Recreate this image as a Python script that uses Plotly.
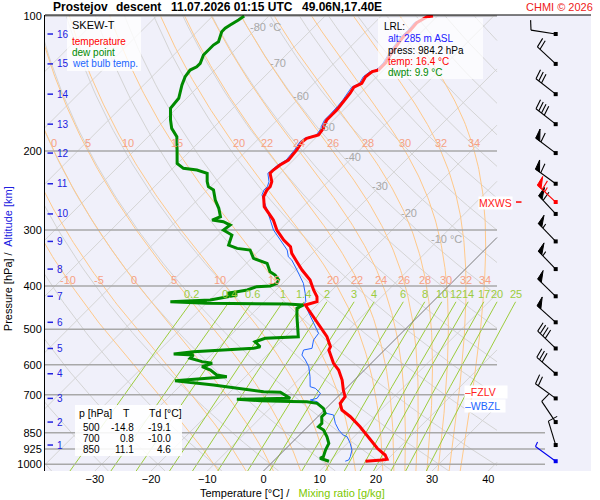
import math
import plotly.graph_objects as go

# ---------------- sounding data ----------------
TEMP_P = [100.0, 100.4, 103.5, 107.5, 111.2, 119.1, 127.3, 132.0, 133.1, 136.6, 141.3, 144.2, 148.7,
          153.9, 159.3, 162.0, 166.3, 170.6, 176.6, 178.1, 184.3, 187.5, 190.8, 199.0, 209.5, 215.0,
          220.6, 224.3, 234.2, 240.3, 244.4, 252.9, 266.3, 275.5, 285.2, 300.2, 316.0, 327.1, 338.4,
          353.3, 368.7, 388.0, 408.5, 422.8, 433.8, 441.2, 464.5, 493.3, 519.3, 546.7, 556.0, 595.3,
          616.2, 648.6, 682.8, 706.7, 731.1, 756.7, 783.1, 824.4, 852.8, 882.7, 921.1, 953.4, 974.6,
          978.2, 984.2]
TEMP_T = [-50.8, -51.7, -52.5, -52.3, -52.4, -51.8, -50.9, -50.9, -51.7, -52.0, -51.5, -52.2, -51.8,
          -51.5, -51.3, -51.2, -51.2, -51.2, -50.6, -50.3, -50.0, -51.5, -51.7, -51.2, -50.9, -51.5,
          -51.8, -51.8, -50.0, -49.4, -49.4, -48.8, -46.9, -44.9, -42.9, -40.5, -37.5, -35.1, -33.7,
          -31.3, -28.9, -25.7, -23.3, -21.5, -20.6, -22.1, -19.1, -15.6, -12.6, -10.2, -9.9, -6.7,
          -4.6, -2.2, -0.2, 1.3, 1.6, 3.1, 5.8, 9.3, 11.4, 13.5, 16.2, 18.8, 19.9,
          19.1, 16.4]

DEW_P = [100.0, 102.1, 104.7, 106.5, 108.4, 111.2, 114.1, 116.1, 119.1, 122.2, 127.5, 129.8, 132.0,
         136.6, 142.5, 147.5, 152.6, 160.6, 170.6, 178.1, 185.9, 199.0, 213.2, 218.7, 220.6, 224.3,
         234.2, 240.3, 244.4, 257.3, 268.5, 280.4, 285.2, 287.7, 292.6, 300.2, 308.1, 324.4, 329.9,
         332.7, 347.3, 356.3, 371.9, 378.3, 388.0, 394.7, 400.2, 401.6, 408.5, 412.1, 415.5, 419.2,
         430.1, 433.8, 437.3, 438.9, 441.2, 448.7, 468.6, 519.3, 523.6, 532.9, 546.7, 551.2, 560.9,
         567.5, 570.5, 580.1, 590.2, 595.3, 605.8, 616.2, 632.1, 637.7, 651.1, 665.6, 676.8, 688.7,
         690.8, 712.4, 716.1, 721.3, 724.5, 725.5, 731.1, 750.1, 769.5, 783.1, 810.2, 824.4, 838.6,
         868.0, 897.9, 929.2, 961.6, 969.6, 984.2]
DEW_T = [-84.4, -84.7, -85.3, -85.6, -85.6, -85.0, -84.4, -84.7, -84.7, -84.7, -83.8, -83.8, -84.4,
         -84.1, -83.2, -82.3, -81.4, -81.1, -79.0, -77.3, -74.9, -72.5, -70.1, -68.1, -65.4, -63.0,
         -61.5, -60.4, -58.9, -56.8, -54.7, -52.9, -53.8, -51.5, -49.7, -50.0, -47.6, -46.4, -44.3,
         -41.7, -39.6, -36.3, -34.3, -32.8, -31.3, -31.0, -31.7, -34.0, -35.1, -36.6, -38.1, -36.0,
         -39.9, -46.7, -39.9, -25.5, -22.4, -23.0, -21.5, -17.7, -23.3, -24.5, -22.7, -23.6, -33.7,
         -36.8, -33.1, -33.1, -30.4, -28.3, -29.5, -27.4, -25.4, -23.3, -31.8, -24.2, -19.4, -14.1,
         -11.0, -8.2, -17.5, -13.1, -7.6, -4.6, -2.5, -0.5, 0.7, 0.7, 1.9, 1.9, 3.4,
         5.2, 6.7, 7.3, 8.1, 7.8, 9.9]

WB_P = [100.0, 103.5, 107.5, 111.2, 119.1, 127.3, 132.0, 133.1, 136.6, 141.3, 144.2, 148.7, 153.9,
        159.3, 162.0, 166.3, 170.6, 176.6, 178.1, 184.3, 187.5, 190.8, 199.0, 209.5, 215.0, 220.6,
        224.3, 234.2, 240.3, 244.4, 250.7, 270.9, 285.2, 300.2, 316.0, 332.7, 344.4, 350.3, 368.7,
        394.7, 415.5, 433.8, 437.3, 460.4, 484.7, 510.3, 528.2, 551.2, 556.0, 570.5, 585.3, 605.8,
        637.7, 671.2, 676.8, 694.3, 712.4, 718.7, 725.0, 750.1, 769.5, 776.2, 810.2, 838.6, 860.6,
        868.0, 897.9, 929.2, 961.6, 978.2, 984.2]
WB_T = [-51.2, -52.9, -52.7, -52.8, -52.2, -51.3, -51.3, -52.1, -52.4, -51.9, -52.6, -52.2, -51.9,
        -51.7, -51.6, -51.6, -51.6, -51.0, -50.7, -50.4, -51.9, -52.1, -51.6, -51.3, -51.9, -52.2,
        -52.2, -50.5, -49.9, -49.9, -49.4, -45.8, -43.5, -41.1, -38.1, -35.1, -33.7, -32.5, -29.8,
        -26.3, -24.2, -22.6, -22.6, -20.0, -17.4, -14.7, -14.4, -13.2, -14.4, -13.8, -12.3, -10.5,
        -8.5, -6.7, -5.5, -3.7, -3.4, -4.3, -2.8, -0.4, 0.9, 2.5, 4.3, 6.1, 7.8,
        8.8, 10.5, 12.0, 12.9, 13.2, 12.8]

# altitude marks (km) and the pressure where each sits
ALT_KM = [1, 2, 3, 4, 5, 6, 7, 8, 9, 10, 11, 12, 13, 14, 15, 16]
ALT_P = [905.8, 805.0, 712.9, 628.1, 551.6, 482.2, 421.9, 366.9, 318.3, 276.4, 236.7, 202.2,
         174.3, 149.4, 127.9, 109.7]
# winds at each altitude mark (direction deg, speed kt)
WIND_DIR = [343, 326, 306, 311, 314, 312, 314, 316, 316, 317, 306, 307, 308, 308, 313, 279]
WIND_SPD = [10, 10, 20, 30, 40, 50, 50, 55, 55, 60, 60, 60, 40, 30, 20, 10]
SFC_P, SFC_DIR, SFC_SPD = 984.2, 306, 3
MXWS_P, MXWS_DIR, MXWS_SPD = 260.0, 313, 65

TABLE_P = [500, 700, 850]
TABLE_T = [-14.8, 0.8, 11.1]
TABLE_TD = [-19.1, -10.0, 4.6]

LRL_ALT, LRL_P, LRL_T, LRL_TD = 285, 984.2, 16.4, 9.9
FZLV_P = 690.0
WBZL_P = 741.0

P_TICKS = [100, 200, 300, 400, 500, 600, 700, 850, 925, 1000]
T_TICKS = [-30, -20, -10, 0, 10, 20, 30, 40]
ISOTHERMS = list(range(-120, 50, 10))
DRY_ADIABATS_C = list(range(-40, 190, 10))
THETA_W = [-10, -5, 0, 5, 10, 15, 20, 22, 24, 26, 28, 30, 32, 34]
MIX_RATIOS = [0.2, 0.4, 0.6, 1, 1.4, 2, 3, 4, 6, 8, 10, 12, 14, 17, 20, 25]
ISO_LBL_T = [-80, -70, -60, -50, -40, -30, -20, -10]
ISO_LBL_P = [105.8, 127.3, 150.7, 176.6, 206.0, 239.0, 274.8, 315.0]

# ---------------- layout geometry ----------------
W, H = 600, 500
PX_L, PX_R, PX_T, PX_B = 45, 591, 15, 471
PX_PER_DEG = 5.62
PX_PER_DEC = 448.3
PX_T0 = 263.5
PX_P100 = 16.0
LOG_P_TOP = 2 + (PX_T - PX_P100) / PX_PER_DEC
LOG_P_BOT = 2 + (PX_B - PX_P100) / PX_PER_DEC
P_TOP, P_BOT = 10 ** LOG_P_TOP, 10 ** LOG_P_BOT
SKEW = PX_PER_DEC / PX_PER_DEG
X_L = (PX_L - PX_T0) / PX_PER_DEG
X_R = (PX_R - PX_T0) / PX_PER_DEG
X_CLIP = (497 - PX_T0) / PX_PER_DEG
X_EXT = (545 - PX_T0) / PX_PER_DEG
X_BARB = (555.7 - PX_T0) / PX_PER_DEG

FONT = "Liberation Sans, Arial, sans-serif"
RD, CP, LV, EPS = 287.04, 1005.7, 2.501e6, 0.622


def skx(t, p):
    return t + SKEW * math.log10(P_BOT / p)


def px_of_x(x):
    return PX_T0 + x * PX_PER_DEG


def px_of_p(p):
    return PX_P100 + (math.log10(p) - 2) * PX_PER_DEC


def xx_of_px(px):
    return (px - PX_T0) / PX_PER_DEG


def paper_x(px):
    return (px - PX_L) / (PX_R - PX_L)


def paper_y(py):
    return (PX_B - py) / (PX_B - PX_T)


def logspace(a, b, n):
    la, lb = math.log10(a), math.log10(b)
    return [10 ** (la + (lb - la) * i / (n - 1)) for i in range(n)]


def clip_right(xs, ps, xmax):
    ox, op = [], []
    for i, (x, p) in enumerate(zip(xs, ps)):
        inside = x <= xmax
        if i > 0:
            x0, p0 = xs[i - 1], ps[i - 1]
            if inside != (x0 <= xmax):
                t = (xmax - x0) / (x - x0)
                pc = 10 ** (math.log10(p0) + t * (math.log10(p) - math.log10(p0)))
                ox.append(xmax)
                op.append(pc)
                if not inside:
                    ox.append(None)
                    op.append(None)
        if inside:
            ox.append(x)
            op.append(p)
    return ox, op


def x_at_p(xs, ps, pt):
    for i in range(1, len(xs)):
        p0, p1 = ps[i - 1], ps[i]
        if (p0 - pt) * (p1 - pt) <= 0 and p0 != p1:
            t = (math.log10(pt) - math.log10(p0)) / (math.log10(p1) - math.log10(p0))
            return xs[i - 1] + t * (xs[i] - xs[i - 1])
    return None


def es_hpa(tc):
    return 6.112 * math.exp(17.67 * tc / (tc + 243.5))


def dewpoint_from_e(e):
    a = math.log(e / 6.112)
    return 243.5 * a / (17.67 - a)


def moist_dtdp(tk, p):
    es = es_hpa(tk - 273.15)
    rs = EPS * es / (p - es)
    return (RD * tk + LV * rs) / (CP + LV * LV * rs * EPS / (RD * tk * tk)) / p


def pseudo_adiabat(tw, p_end, n):
    ps, ts = [1000.0], [tw + 273.15]
    l0, l1 = math.log(1000.0), math.log(p_end)
    for i in range(1, n + 1):
        pa = ps[-1]
        pb = math.exp(l0 + (l1 - l0) * i / n)
        h = pb - pa
        t = ts[-1]
        k1 = moist_dtdp(t, pa)
        k2 = moist_dtdp(t + 0.5 * h * k1, pa + 0.5 * h)
        k3 = moist_dtdp(t + 0.5 * h * k2, pa + 0.5 * h)
        k4 = moist_dtdp(t + h * k3, pb)
        ts.append(t + h * (k1 + 2 * k2 + 2 * k3 + k4) / 6)
        ps.append(pb)
    return ps, [t - 273.15 for t in ts]


fig = go.Figure()
annotations = []
shapes = []


def add_lines(xs, ps, color, width):
    fig.add_trace(go.Scatter(x=xs, y=ps, mode="lines", line=dict(color=color, width=width),
                             hoverinfo="skip", showlegend=False))


def ann(text, px, py, size, color="black", xanchor="left", yanchor="middle", **kw):
    annotations.append(dict(text=text, x=paper_x(px), y=paper_y(py), xref="paper", yref="paper",
                            xanchor=xanchor, yanchor=yanchor, showarrow=False,
                            font=dict(family=FONT, size=size, color=color), **kw))


def rect(x0, y0, x1, y1, fill):
    shapes.append(dict(type="rect", xref="paper", yref="paper", x0=paper_x(x0), x1=paper_x(x1),
                       y0=paper_y(y1), y1=paper_y(y0), fillcolor=fill, line=dict(width=0),
                       layer="above"))


# ---------------- background reference lines ----------------
GRID = "#d4d4d4"
gx, gp = [], []
for t in ISOTHERMS:
    if t == 0:
        continue
    cx, cp = clip_right([skx(t, P_BOT), skx(t, P_TOP)], [P_BOT, P_TOP], X_CLIP)
    gx += cx + [None]
    gp += cp + [None]
for th in DRY_ADIABATS_C:
    ps = logspace(P_BOT, P_TOP, 80)
    xs = [skx((th + 273.15) * (p / 1000.0) ** (RD / CP) - 273.15, p) for p in ps]
    cx, cp = clip_right(xs, ps, X_CLIP)
    gx += cx + [None]
    gp += cp + [None]
add_lines(gx, gp, GRID, 1)

ox, op = [], []
lbl_rows = []
for tw in THETA_W:
    pd, td = pseudo_adiabat(tw, P_BOT, 6)
    pu, tu = pseudo_adiabat(tw, P_TOP, 160)
    ps = pd[::-1] + pu[1:]
    ts = td[::-1] + tu[1:]
    xs = [skx(t, p) for t, p in zip(ts, ps)]
    cx, cp = clip_right(xs, ps, X_CLIP)
    ox += cx + [None]
    op += cp + [None]
    lbl_rows.append((tw, x_at_p(xs, ps, 200.0), x_at_p(xs, ps, 388.0)))
add_lines(ox, op, "#ffc98a", 1)

mx, mp = [], []
mix_lbl = []
for w in MIX_RATIOS:
    ps = logspace(P_BOT, 434.0, 25)
    xs = [skx(dewpoint_from_e(w * p / (622.0 + w)), p) for p in ps]
    mx += xs + [None]
    mp += ps + [None]
    mix_lbl.append((w, xs[-1]))
add_lines(mx, mp, "#9ccc3c", 1)

bx, bp = [], []
for p in P_TICKS:
    bx += [X_L, X_EXT if p >= 850 else X_CLIP, None]
    bp += [p, p, None]
add_lines(bx, bp, "#a8a8a8", 1.5)

zx, zp = clip_right([skx(0, P_BOT), skx(0, P_TOP)], [P_BOT, P_TOP], X_CLIP)
add_lines(zx, zp, "#7c7c7c", 1)

# ---------------- sounding profiles ----------------
add_lines([skx(t, p) for t, p in zip(WB_T, WB_P)], WB_P, "#2266ff", 1)
add_lines([skx(t, p) for t, p in zip(DEW_T, DEW_P)], DEW_P, "#008a00", 3)
add_lines([skx(t, p) for t, p in zip(TEMP_T, TEMP_P)], TEMP_P, "#ff0000", 3)

# ---------------- altitude marks ----------------
ax_, ap_ = [], []
for km, p in zip(ALT_KM, ALT_P):
    ax_ += [xx_of_px(47.5), xx_of_px(53), None]
    ap_ += [p, p, None]
    ann(str(km), 55, px_of_p(p), 10, "#2020e0")
add_lines(ax_, ap_, "#2020e0", 1.5)

# ---------------- wind barbs ----------------
BARB_LEN, FEATHER, HALF, SPACING, FLAG_W = 25.0, 10.0, 5.0, 3.5, 5.0


def barb_parts(wdir, spd):
    th = math.radians(wdir)
    sx, sy = math.sin(th), -math.cos(th)
    fx, fy = -sy, sx
    gx_, gy_ = fx + 0.2 * sx, fy + 0.2 * sy
    g = math.hypot(gx_, gy_)
    gx_, gy_ = gx_ / g, gy_ / g

    def on(d):
        return (d * sx, d * sy)

    segs = [[(0.0, 0.0), on(BARB_LEN)]]
    polys = []
    s = int(5 * round(spd / 5.0))
    n_flag, s = divmod(s, 50)
    n_full, s = divmod(s, 10)
    n_half = 1 if s >= 5 else 0
    pos = BARB_LEN
    for _ in range(n_flag):
        a, b = on(pos), on(pos - FLAG_W)
        apex = (a[0] + FEATHER * gx_, a[1] + FEATHER * gy_)
        polys.append([a, apex, b, a])
        pos -= FLAG_W + 1.5
    for _ in range(n_full):
        a = on(pos)
        segs.append([a, (a[0] + FEATHER * gx_, a[1] + FEATHER * gy_)])
        pos -= SPACING
    if n_half:
        a = on(pos)
        segs.append([a, (a[0] + HALF * gx_, a[1] + HALF * gy_)])
    return segs, polys


def draw_barbs(plist, dlist, slist, color):
    lx, lp, fxs, fps, sqx, sqp = [], [], [], [], [], []
    for p0, d, s in zip(plist, dlist, slist):
        segs, polys = barb_parts(d, s)
        conv = lambda q: (X_BARB + q[0] / PX_PER_DEG, p0 * 10 ** (q[1] / PX_PER_DEC))
        for seg in segs:
            for q in seg:
                X, P = conv(q)
                lx.append(X)
                lp.append(P)
            lx.append(None)
            lp.append(None)
        for poly in polys:
            for q in poly:
                X, P = conv(q)
                fxs.append(X)
                fps.append(P)
            fxs.append(None)
            fps.append(None)
        sqx.append(X_BARB)
        sqp.append(p0)
    add_lines(lx, lp, color, 1.1)
    if fxs:
        fig.add_trace(go.Scatter(x=fxs, y=fps, mode="lines", fill="toself", fillcolor=color,
                                 line=dict(color=color, width=1), hoverinfo="skip", showlegend=False))
    fig.add_trace(go.Scatter(x=sqx, y=sqp, mode="markers", marker=dict(symbol="square", size=4, color=color),
                             hoverinfo="skip", showlegend=False))


draw_barbs(ALT_P, WIND_DIR, WIND_SPD, "black")
draw_barbs([SFC_P], [SFC_DIR], [SFC_SPD], "#0000ee")
draw_barbs([MXWS_P], [MXWS_DIR], [MXWS_SPD], "#ff0000")
add_lines([xx_of_px(516), xx_of_px(521.5)], [MXWS_P, MXWS_P], "#ff0000", 1.5)

# ---------------- labels on reference lines ----------------
for t, p in zip(ISO_LBL_T, ISO_LBL_P):
    txt = f"{t} °C" if t in (-80, -10) else str(t)
    shift = 7.7 if t in (-80, -10) else 0
    ann(txt, px_of_x(skx(t, p)) + shift, px_of_p(p), 11, "#a8a8a8", xanchor="center")

for tw, x200, x400 in lbl_rows:
    if x200 is not None and X_L < x200 < X_CLIP and tw >= 0:
        ann(str(tw), px_of_x(x200), px_of_p(192.0), 11, "#f6a184", xanchor="center")
    if x400 is not None and X_L < x400 < X_CLIP:
        ann(str(tw), px_of_x(x400), px_of_p(388.0), 11, "#f6a184", xanchor="center")

for w, xt in mix_lbl:
    ann(f"{w:g}", px_of_x(xt), px_of_p(418.0), 11, "#9ccc3c", xanchor="center")

# ---------------- text boxes ----------------
rect(67, 17, 141, 71, "rgba(255,255,255,0.8)")
ann("SKEW-T", 69.5, 25.5, 11, "black")
ann("temperature", 70, 41.4, 10, "#ff0000")
ann("dew point", 70, 52.6, 10, "#008a00")
ann("wet bulb temp.", 70, 63.8, 10, "#2266ff")

rect(378, 18, 483, 79, "rgba(255,255,255,0.7)")
LRL_Y = [27.0, 38.9, 50.2, 61.5, 72.8]
ann("LRL:", 382, LRL_Y[0], 10, "black")
ann(f"alt: {LRL_ALT} m ASL", 386, LRL_Y[1], 10, "#2020ff")
ann(f"press: {LRL_P:.1f} hPa", 386, LRL_Y[2], 10, "black")
ann(f"temp: {LRL_T:.1f} °C", 386, LRL_Y[3], 10, "#ff0000")
ann(f"dwpt: {LRL_TD:.1f} °C", 386, LRL_Y[4], 10, "#008a00")

rect(75, 405, 182, 456, "rgba(255,255,255,0.88)")
ann("p [hPa]", 77, 413.0, 10.5)
ann("T", 126.7, 413.0, 10.5, xanchor="center")
ann("Td [°C]", 146.7, 413.0, 10.5)
for i, (p, t, td) in enumerate(zip(TABLE_P, TABLE_T, TABLE_TD)):
    yy = 427.3 + i * 11.3
    ann(str(p), 101.7, yy, 10, xanchor="right")
    ann(f"{t:.1f}", 136, yy, 10, xanchor="right")
    ann(f"{td:.1f}", 173.3, yy, 10, xanchor="right")

ann("–FZLV", 464, px_of_p(FZLV_P), 10.5, "#ff2020", bgcolor="white", width=42,
    align="left", borderpad=0)
ann("–WBZL", 464, px_of_p(WBZL_P), 10.5, "#2266ff", bgcolor="white", width=40,
    align="left", borderpad=0)
ann("MXWS", 512.5, px_of_p(MXWS_P) + 1, 10.5, "#ff2020", xanchor="right", bgcolor="white",
    borderpad=0)

# ---------------- titles ----------------
ann("<b>Prostejov</b>", 50.5, 7.5, 12)
ann("<b>descent</b>", 114, 7.5, 12)
ann("<b>11.07.2026 01:15 UTC</b>", 169, 7.5, 12)
ann("<b>49.06N,17.40E</b>", 300, 7.5, 12)
ann("CHMI © 2026", 595, 7.5, 11, "#ee2020", xanchor="right")
ann("Temperature [°C] /\u00a0\u00a0 <span style='color:#7cc800'>Mixing ratio [g/kg]</span>",
    197.5, 493, 11)
annotations.append(dict(text="Pressure [hPa] /\u00a0 <span style='color:#2020e0'>Altitude [km]</span>",
                        x=paper_x(7.7), y=paper_y(333), xref="paper", yref="paper", textangle=-90,
                        xanchor="center", yanchor="bottom", showarrow=False,
                        font=dict(family=FONT, size=11, color="black")))

shapes.append(dict(type="line", xref="paper", yref="paper", x0=0, x1=1, y0=1, y1=1,
                   line=dict(color="black", width=1), layer="above"))

fig.update_layout(
    width=W, height=H,
    margin=dict(l=PX_L, r=W - PX_R, t=PX_T, b=H - PX_B, pad=0),
    paper_bgcolor="white", plot_bgcolor="#f0f0fa",
    showlegend=False, hovermode=False,
    font=dict(family=FONT, size=11, color="black"),
    xaxis=dict(range=[X_L, X_R], tickvals=T_TICKS, showgrid=False, zeroline=False, showline=False,
               ticks="", tickfont=dict(size=11, color="black"), fixedrange=True),
    yaxis=dict(type="log", range=[LOG_P_BOT, LOG_P_TOP], tickvals=P_TICKS,
               ticktext=[str(p) for p in P_TICKS], showgrid=False, zeroline=False,
               showline=True, linecolor="black", linewidth=1, ticks="",
               tickfont=dict(size=11, color="black"), fixedrange=True),
    annotations=annotations,
    shapes=shapes,
)

fig.write_html("out.html", config={"displayModeBar": False},
               post_script="document.body.style.margin='0px';document.body.style.padding='0px';")
